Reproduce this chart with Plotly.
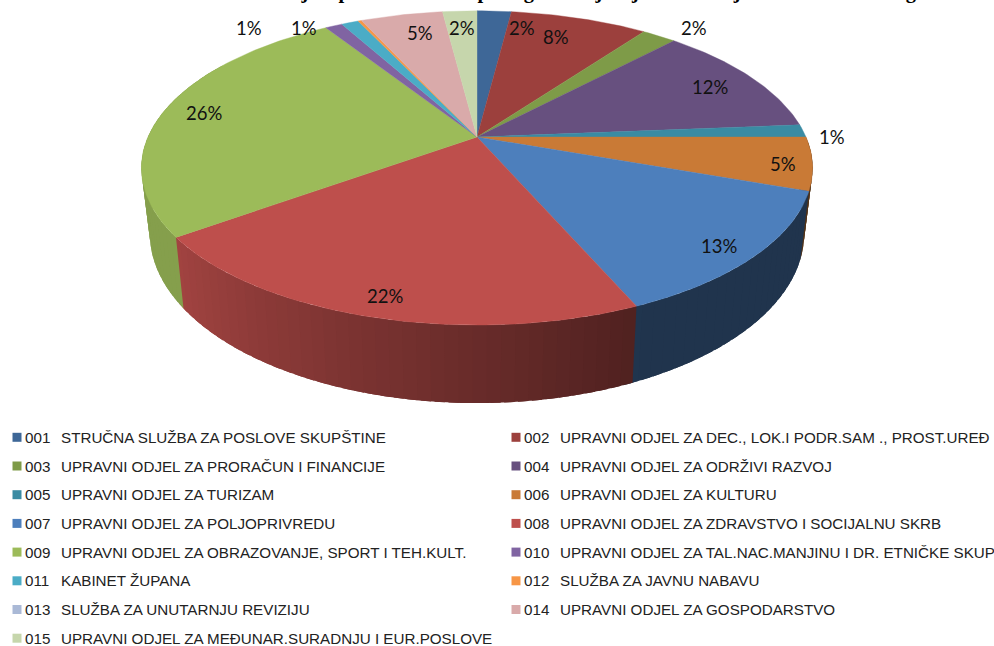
import math
import plotly.graph_objects as go

CODES = ["001", "002", "003", "004", "005", "006", "007", "008", "009", "010", "011", "012", "013", "014", "015"]
NAMES = [
    "STRUČNA SLUŽBA ZA POSLOVE SKUPŠTINE",
    "UPRAVNI ODJEL ZA DEC., LOK.I PODR.SAM ., PROST.UREĐ",
    "UPRAVNI ODJEL ZA PRORAČUN I FINANCIJE",
    "UPRAVNI ODJEL ZA ODRŽIVI RAZVOJ",
    "UPRAVNI ODJEL ZA TURIZAM",
    "UPRAVNI ODJEL ZA KULTURU",
    "UPRAVNI ODJEL ZA POLJOPRIVREDU",
    "UPRAVNI ODJEL ZA ZDRAVSTVO I SOCIJALNU SKRB",
    "UPRAVNI ODJEL ZA OBRAZOVANJE, SPORT I TEH.KULT.",
    "UPRAVNI ODJEL ZA TAL.NAC.MANJINU I DR. ETNIČKE SKUP",
    "KABINET ŽUPANA",
    "SLUŽBA ZA JAVNU NABAVU",
    "SLUŽBA ZA UNUTARNJU REVIZIJU",
    "UPRAVNI ODJEL ZA GOSPODARSTVO",
    "UPRAVNI ODJEL ZA MEĐUNAR.SURADNJU I EUR.POSLOVE",
]
VALUES = [2.0, 8.0, 2.0, 11.7, 1.3, 5.45, 13.05, 21.5, 26.0, 1.0, 1.0, 0.2, 0.0, 4.8, 2.0]
COLORS = ["#3E6797", "#9C403D", "#7E9B48", "#67507F", "#3A8BA3", "#C97A36", "#4D7FBC", "#BE4F4C",
          "#9CBB59", "#8064A2", "#4BACC6", "#F79646", "#AAB9D6", "#D9AAAA", "#C6D6AC"]
TITLE = "Grafikon 1. Struktura svih odjela proračuna u % po organizacijskoj klasifikaciji i rashoda u 2012. godini"

# Placement of the percentage labels (page pixels), only for the slices that carry one
LABEL_XY = {0: (522, 28), 1: (556, 37), 2: (694, 28), 3: (710, 87), 4: (832, 137), 5: (783, 164),
            6: (719, 246), 7: (385, 296), 8: (204, 113), 9: (249, 28), 10: (304, 28), 13: (420, 33), 14: (462, 28)}

# Perspective model of the tilted pie
CX, CY, A, B, K = 477.0, 137.0, 329.0, 151.0, -0.197


def top(theta):
    t = math.radians(theta)
    u, v = math.sin(t), -math.cos(t)
    w = 1 + K * v
    return CX + A * u / w, CY + B * v / w


def bottom(theta):
    x, y = top(theta)
    return CX + 0.975 * (x - CX), CY + 63 + 1.08 * (y - CY)


def shade(hex_color, theta):
    f = min(0.85, max(0.41, 0.41 + (theta - 155) * 0.0056))
    r, g, b = (int(hex_color[i:i + 2], 16) for i in (1, 3, 5))
    return f"rgb({r * f:.0f},{g * f:.0f},{b * f:.0f})"


fig = go.Figure()
total = sum(VALUES)
edges = [0.0]
for v in VALUES:
    edges.append(edges[-1] + 360 * v / total)

# Side wall, in thin overlapping strips so that the shading runs along it without seams
for i, c in enumerate(COLORS):
    a0, a1 = max(edges[i], 90.0), min(edges[i + 1], 300.0)
    t = a0
    while t < a1:
        e = min(t + 2.0, a1)
        over = min(e + 1.5, a1 + 1.5)
        arc = [t + (over - t) * j / 4 for j in range(5)]
        p = [top(a) for a in arc] + [bottom(a) for a in reversed(arc)]
        p.append(p[0])
        col = shade(c, (t + e) / 2)
        fig.add_trace(go.Scatter(x=[q[0] for q in p], y=[q[1] for q in p], mode="none", fill="toself",
                                 fillcolor=col, hoverinfo="skip", showlegend=False))
        t = e

# Top surface
for i, c in enumerate(COLORS):
    if VALUES[i] <= 0:
        continue
    n = max(2, int((edges[i + 1] - edges[i]) / 1.0))
    arc = [top(edges[i] + (edges[i + 1] - edges[i]) * j / n) for j in range(n + 1)]
    xs = [CX] + [q[0] for q in arc] + [CX]
    ys = [CY] + [q[1] for q in arc] + [CY]
    fig.add_trace(go.Scatter(x=xs, y=ys, mode="lines", fill="toself", fillcolor=c, line=dict(color=c, width=0.4),
                             name=f"{CODES[i]} {NAMES[i]}", text=f"{VALUES[i]}%", hoverinfo="name+text", showlegend=False))

annotations = []
# Percentage labels
for i, (x, y) in LABEL_XY.items():
    annotations.append(dict(x=x, y=y, xref="x", yref="y", text=f"{round(VALUES[i])}%", showarrow=False,
                            font=dict(family="Lato", size=18.5, color="#111111"), xanchor="center", yanchor="middle"))

# Legend in two columns
sw_x, sw_y, sw_c = [], [], []
for i, c in enumerate(COLORS):
    col, row = i % 2, i // 2
    y = 437.3 + 28.7 * row
    left = 0 if col == 0 else 499
    sw_x.append(left + 17)
    sw_y.append(y)
    sw_c.append(c)
    for text, off in ((CODES[i], 25), (NAMES[i], 60.5)):
        annotations.append(dict(x=left + off, y=y, xref="x", yref="y", text=text, showarrow=False,
                                font=dict(family="Liberation Sans", size=15.2, color="#222222"),
                                xanchor="left", yanchor="middle", xshift=-2))
fig.add_trace(go.Scatter(x=sw_x, y=sw_y, mode="markers", hoverinfo="skip", showlegend=False,
                         marker=dict(symbol="square", size=9, color=sw_c, line=dict(width=0))))

# Title, cut by the top of the page as in the reference
annotations.append(dict(x=500, y=5, xref="x", yref="y", text=f"<b>{TITLE}</b>", showarrow=False,
                        xanchor="center", yanchor="bottom",
                        font=dict(family="Liberation Serif", size=20.5, color="#000000")))

fig.update_layout(
    width=994, height=646, margin=dict(l=0, r=0, t=0, b=0),
    paper_bgcolor="white", plot_bgcolor="white", showlegend=False,
    xaxis=dict(range=[0, 994], visible=False, fixedrange=True),
    yaxis=dict(range=[646, 0], visible=False, fixedrange=True),
    annotations=annotations,
)
fig.write_html("out.html", config=dict(displayModeBar=False),
               post_script="document.body.style.margin='0';document.body.style.overflow='hidden';")
